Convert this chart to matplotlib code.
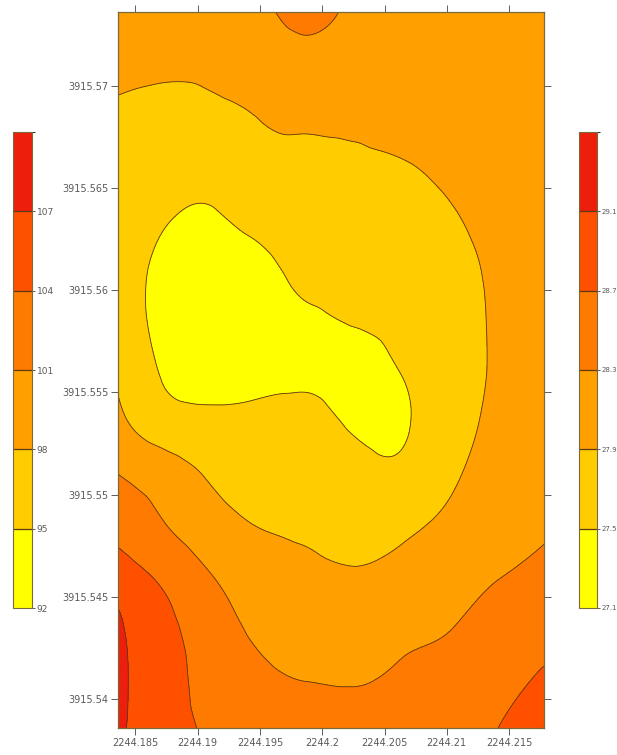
import numpy as np
import matplotlib
matplotlib.use("Agg")
import matplotlib.pyplot as plt
import matplotlib.tri as mtri
from matplotlib import font_manager
from matplotlib.colors import ListedColormap, BoundaryNorm
from matplotlib.cm import ScalarMappable
from matplotlib.ticker import FuncFormatter

# grid nodes (easting / northing) and values
x_nodes = [2244.1836, 2244.1874, 2244.1912, 2244.1950, 2244.1988,
           2244.2026, 2244.2064, 2244.2102, 2244.2140, 2244.2178]
y_nodes = [3915.5736, 3915.5711, 3915.5686, 3915.5661, 3915.5636,
           3915.5611, 3915.5586, 3915.5561, 3915.5536, 3915.5511,
           3915.5486, 3915.5461, 3915.5436, 3915.5411, 3915.5386]
# rows top -> bottom, columns left -> right
field = [
    [99.0, 99.2, 99.5, 100.3, 101.8, 100.5, 100.0, 99.8, 99.8, 99.8],
    [98.6, 98.4, 98.5, 99.2, 100.0, 99.8, 99.7, 99.6, 99.6, 99.7],
    [97.6, 97.3, 97.5, 98.1, 98.4, 98.5, 98.8, 99.0, 99.3, 99.5],
    [97.0, 96.2, 96.0, 97.3, 97.6, 97.7, 97.9, 98.4, 99.0, 99.3],
    [96.6, 95.2, 94.8, 96.0, 96.8, 96.9, 97.2, 97.8, 98.7, 99.1],
    [96.5, 94.4, 93.8, 94.3, 95.8, 96.0, 96.5, 97.2, 98.4, 99.0],
    [96.8, 94.2, 93.6, 93.8, 94.6, 95.2, 95.8, 96.8, 98.3, 98.9],
    [97.6, 94.7, 94.2, 94.2, 94.4, 94.2, 95.1, 96.6, 98.3, 99.0],
    [98.6, 96.2, 95.6, 95.8, 95.9, 94.6, 94.7, 96.8, 98.5, 99.2],
    [100.9, 99.3, 97.6, 97.0, 96.8, 95.9, 95.6, 97.5, 98.9, 99.7],
    [103.0, 101.0, 99.0, 97.9, 97.6, 96.9, 97.3, 98.6, 99.7, 100.6],
    [105.5, 103.3, 100.95, 99.0, 98.5, 98.2, 98.9, 100.0, 100.85, 101.6],
    [107.4, 104.6, 102.5, 100.3, 99.6, 99.4, 100.3, 100.9, 102.0, 102.7],
    [107.7, 104.9, 103.1, 101.5, 100.9, 100.8, 101.3, 101.9, 103.0, 104.3],
    [107.6, 104.9, 103.6, 102.0, 101.5, 101.4, 101.8, 102.6, 103.95, 105.3],
]

levels = [92, 95, 98, 101, 104, 107, 110]
levels_right = [27.1, 27.5, 27.9, 28.3, 28.7, 29.1, 29.5]
band_colors = ['#ffff00', '#ffcc00', '#ffa000', '#ff7a00', '#ff5000', '#ee1e0c']

x_ticks = [2244.185, 2244.19, 2244.195, 2244.2, 2244.205, 2244.21, 2244.215]
y_ticks = [3915.54, 3915.545, 3915.55, 3915.555, 3915.56, 3915.565, 3915.57]

label_color = '#5a5a5a'
line_color = '#5a3a12'
frame_color = '#7a6a3a'

# narrow labels like the original, if the narrow face is installed
installed = {f.name for f in font_manager.fontManager.ttflist}
if 'Liberation Sans Narrow' in installed:
    label_font, axis_size, right_size = 'Liberation Sans Narrow', 8, 6.5
else:
    label_font, axis_size, right_size = 'DejaVu Sans', 7, 5
left_size = 6.5
plt.rcParams['font.family'] = [label_font, 'DejaVu Sans']


def short_fmt(v, pos):
    return ('%.3f' % v).rstrip('0').rstrip('.')


fig = plt.figure(figsize=(6.17, 7.55), dpi=100)
ax = fig.add_axes([0.1912, 0.0358, 0.6904, 0.9483])

X, Y = np.meshgrid(x_nodes, y_nodes)
Z = np.array(field)
nx, ny = len(x_nodes), len(y_nodes)
tris = []
for j in range(ny - 1):
    for i in range(nx - 1):
        a = j * nx + i
        b = a + 1
        c = a + nx
        d = c + 1
        tris.append([c, d, b])
        tris.append([c, b, a])
tri = mtri.Triangulation(X.ravel(), Y.ravel(), np.array(tris))
refiner = mtri.UniformTriRefiner(tri)
tri_f, z_f = refiner.refine_field(Z.ravel(), subdiv=4)

cs = ax.tricontourf(tri_f, z_f, levels=levels, colors=band_colors)
ax.tricontour(tri_f, z_f, levels=levels[1:-1], colors=line_color, linewidths=0.6)

ax.set_xlim(x_nodes[0], x_nodes[-1])
ax.set_ylim(y_nodes[-1], y_nodes[0])
ax.set_xticks(x_ticks)
ax.set_yticks(y_ticks)
ax.xaxis.set_major_formatter(FuncFormatter(short_fmt))
ax.yaxis.set_major_formatter(FuncFormatter(short_fmt))
ax.tick_params(direction='out', length=5, width=0.6, color='#444444',
               labelsize=axis_size, labelcolor=label_color, top=True, right=True,
               pad=2)
for s in ax.spines.values():
    s.set_color(frame_color)
    s.set_linewidth(0.9)

cmap = ListedColormap(band_colors)

# left colour scale
cax1 = fig.add_axes([13 / 617, 1 - 608 / 755, 19 / 617, 476 / 755])
cb1 = fig.colorbar(ScalarMappable(norm=BoundaryNorm(levels, cmap.N), cmap=cmap),
                   cax=cax1, ticks=levels[:-1], drawedges=True)
cb1.ax.set_yticklabels([str(v) for v in levels[:-1]])

# right colour scale, squeezed against the picture edge
cax2 = fig.add_axes([579 / 617, 1 - 608 / 755, 18 / 617, 476 / 755])
cb2 = fig.colorbar(ScalarMappable(norm=BoundaryNorm(levels_right, cmap.N), cmap=cmap),
                   cax=cax2, ticks=levels_right[:-1], drawedges=True)
cb2.ax.set_yticklabels(['%.1f' % v for v in levels_right[:-1]])

for cb, size in ((cb1, left_size), (cb2, right_size)):
    cb.outline.set_edgecolor(frame_color)
    cb.outline.set_linewidth(0.8)
    cb.dividers.set_color(line_color)
    cb.dividers.set_linewidth(0.9)
    cb.ax.tick_params(length=2.5, width=0.6, color='#444444', labelsize=size,
                      labelcolor=label_color, pad=0.8)

fig.savefig('out.png', dpi=100)
